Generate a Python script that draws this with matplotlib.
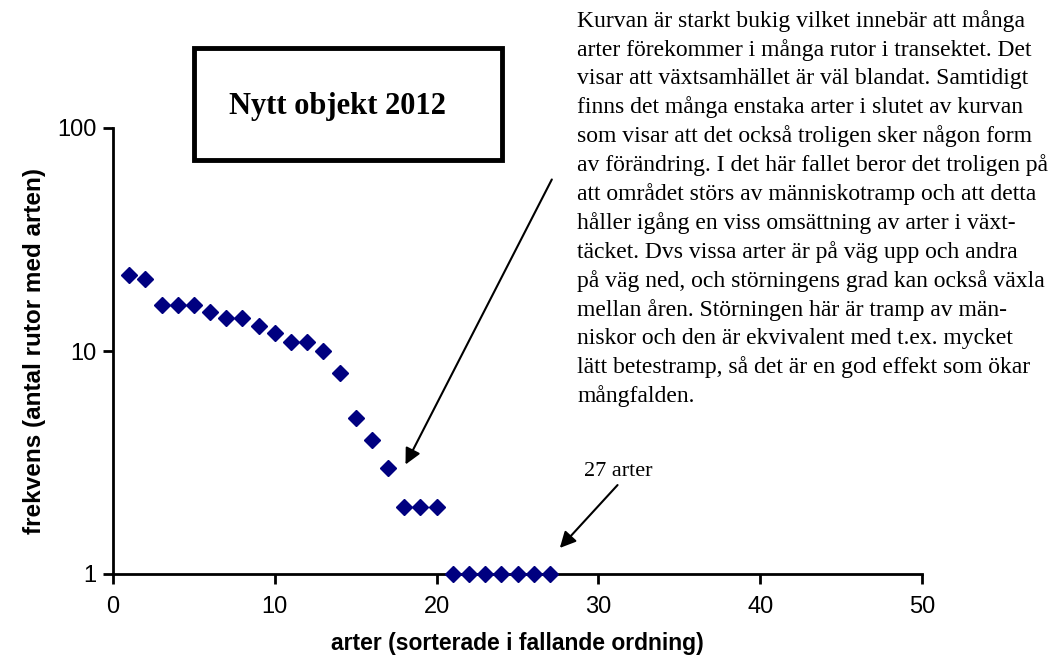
import matplotlib
matplotlib.use('Agg')
import matplotlib.pyplot as plt
from matplotlib.patches import Rectangle

plt.rcParams['font.family'] = ['Liberation Sans', 'DejaVu Sans']

# species rank and number of plots where each species was found
arter = list(range(1, 28))
frekvens = [22, 21, 16, 16, 16, 15, 14, 14, 13, 12, 11, 11, 10, 8, 5, 4, 3,
            2, 2, 2, 1, 1, 1, 1, 1, 1, 1]

x_ticks = [0, 10, 20, 30, 40, 50]
y_ticks = [1, 10, 100]

kommentar = ("Kurvan är starkt bukig vilket innebär att många\n"
             "arter förekommer i många rutor i transektet. Det\n"
             "visar att växtsamhället är väl blandat. Samtidigt\n"
             "finns det många enstaka arter i slutet av kurvan\n"
             "som visar att det också troligen sker någon form\n"
             "av förändring. I det här fallet beror det troligen på\n"
             "att området störs av människotramp och att detta\n"
             "håller igång en viss omsättning av arter i växt-\n"
             "täcket. Dvs vissa arter är på väg upp och andra\n"
             "på väg ned, och störningens grad kan också växla\n"
             "mellan åren. Störningen här är tramp av män-\n"
             "niskor och den är ekvivalent med t.ex. mycket\n"
             "lätt betestramp, så det är en god effekt som ökar\n"
             "mångfalden.")

W, H = 1058, 668
fig = plt.figure(figsize=(W / 100, H / 100), dpi=100)
ax = fig.add_axes([113 / W, 1 - 574 / H, 809 / W, 446 / H])

ax.plot(arter, frekvens, linestyle='none', marker='D', markersize=8,
        color='#000080', clip_on=False, zorder=3)

ax.set_yscale('log')
ax.set_xlim(0, 50)
ax.set_ylim(1, 100)
ax.set_xticks(x_ticks)
ax.set_yticks(y_ticks)
ax.set_yticklabels([str(v) for v in y_ticks])
ax.minorticks_off()
ax.tick_params(axis='both', labelsize=17, width=2, length=7, direction='out')
ax.tick_params(axis='x', pad=9)
ax.tick_params(axis='y', pad=5)

for side in ['top', 'right']:
    ax.spines[side].set_visible(False)
for side in ['left', 'bottom']:
    ax.spines[side].set_linewidth(2)

ax.set_xlabel('arter (sorterade i fallande ordning)', fontsize=16.5,
              fontweight='bold', labelpad=10)
ax.set_ylabel('frekvens (antal rutor med arten)', fontsize=17.5,
              fontweight='bold', labelpad=8)

# title box
fig.add_artist(Rectangle((194 / W, 1 - 160 / H), 308 / W, 112 / H,
                         transform=fig.transFigure, facecolor='white',
                         edgecolor='black', linewidth=3.5))
fig.text(337 / W, 1 - 114 / H, 'Nytt objekt 2012', family='Liberation Serif',
         fontsize=22, fontweight='bold', ha='center', va='baseline')

# explanatory text
fig.text(577 / W, 1 - 10 / H, kommentar, family='Liberation Serif',
         fontsize=17, ha='left', va='top', linespacing=1.42)

# arrows
ax.annotate('', xy=(18.0, 10 ** ((574 - 467) / 223)),
            xytext=(27.2, 10 ** ((574 - 177) / 223)),
            arrowprops=dict(arrowstyle='-|>', color='black', lw=1.5,
                            mutation_scale=24),
            annotation_clip=False)
ax.annotate('', xy=(27.5, 10 ** ((574 - 550) / 223)),
            xytext=(31.3, 10 ** ((574 - 483) / 223)),
            arrowprops=dict(arrowstyle='-|>', color='black', lw=1.5,
                            mutation_scale=24),
            annotation_clip=False)
ax.text(31.2, 10 ** ((574 - 472) / 223), '27 arter', family='Liberation Serif',
        fontsize=16, ha='center', va='center')

plt.savefig('out.png', dpi=100)
